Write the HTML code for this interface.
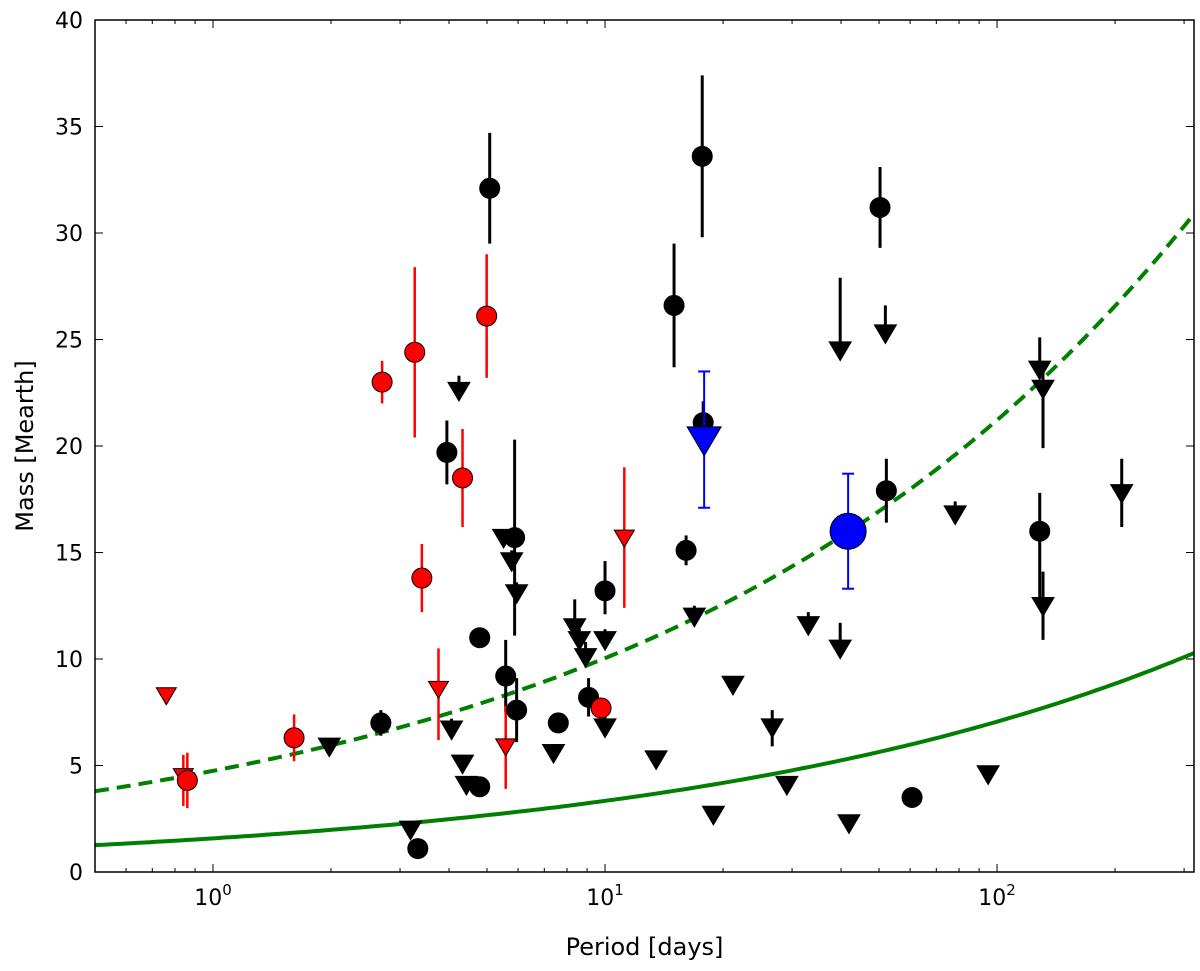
<!DOCTYPE html>
<html><head><meta charset="utf-8"><style>
body{margin:0;background:#fff}
svg{display:block;font-family:"DejaVu Sans","Liberation Sans",sans-serif}
</style></head><body>
<svg id="chart" width="1200" height="971" viewBox="0 0 1200 971"></svg>
<script>
// ---- data ----
const yTicks=[0,5,10,15,20,25,30,35,40];
const xDecades=[0,1,2];
// black circles: period, mass, err low, err high
const blkCircP=[5.08,17.7,15.0,50.3,17.8,3.95,52.2,128.5,16.1,5.88,10,4.79,5.58,5.95,9.08,2.68,7.6,4.79,3.33,60.7];
const blkCircM=[32.1,33.6,26.6,31.2,21.1,19.7,17.9,16.0,15.1,15.7,13.2,11.0,9.2,7.6,8.2,7.0,7.0,4.0,1.1,3.5];
const blkCircLo=[2.6,3.8,2.9,1.9,1.0,1.5,1.5,3.2,0.7,4.6,1.1,0,1.7,1.5,0.9,0.6,0,0,0,0];
const blkCircHi=[2.6,3.8,2.9,1.9,1.0,1.5,1.5,1.8,0.7,4.6,1.4,0,1.7,1.5,0.9,0.6,0,0,0,0];
// black triangles (upper limits): period, mass, bar above
const blkTriP=[4.24,39.8,51.9,128.5,131,131,208,78.2,16.9,33.0,39.8,5.51,5.78,5.95,8.37,8.92,8.6,10,10,4.06,4.33,4.43,1.98,3.19,7.39,13.5,21.2,26.7,29.1,18.9,41.9,94.9];
const blkTriM=[22.6,24.5,25.3,23.6,22.7,12.5,17.8,16.8,12.0,11.6,10.5,15.7,14.6,13.1,11.5,10.1,10.9,10.9,6.8,6.7,5.1,4.1,5.9,2.0,5.6,5.3,8.8,6.8,4.1,2.7,2.3,4.6];
const blkTriUp=[0.7,3.4,1.3,1.5,1.0,1.6,1.6,0.6,0.5,0.6,1.2,0,0.5,0.5,1.3,0.7,0.5,0.5,0.5,0.5,0.4,0.4,0.3,0.3,0.3,0,0,0.8,0.4,0,0,0.3];
const blkTriDn=[0,0,0,0,2.8,1.6,1.6,0,0,0,0,0,0,0,0,0,0,0,0,0,0,0,0,0,0,0,0,0.9,0,0,0,0];
// red circles
const redCircP=[2.7,3.27,4.99,4.33,3.41,1.61,0.86,9.77];
const redCircM=[23.0,24.4,26.1,18.5,13.8,6.3,4.3,7.7];
const redCircE=[1.0,4.0,2.9,2.3,1.6,1.1,1.3,0.4];
// red triangles: period, mass, bar above, bar below
const redTriP=[0.76,0.84,3.76,5.58,11.2];
const redTriM=[8.3,4.5,8.6,5.9,15.7];
const redTriUp=[0,1.0,1.9,1.9,3.3];
const redTriDn=[0,1.4,2.4,2.0,3.3];
// blue highlighted
const blueTriP=[17.9],blueTriM=[20.3],blueTriE=[3.2];
const blueCircP=[41.7],blueCircM=[16.0],blueCircE=[2.7];
// curves M = k * P^exp
const curveSolidK=1.58, curveDashK=4.75, curveExp=0.325;

// ---- axes ----
const L=95,R=1194,T=20,B=872;
const xMin=0.5,xMax=318;
const dec=(R-L)/(Math.log10(xMax)-Math.log10(xMin));
const X=p=>L+(Math.log10(p)-Math.log10(xMin))*dec;
const Y=m=>B-(m/40)*(B-T);
const svg=document.getElementById('chart');
const NS='http://www.w3.org/2000/svg';
function el(t,a,parent){const e=document.createElementNS(NS,t);for(const k in a)e.setAttribute(k,a[k]);(parent||svg).appendChild(e);return e;}

const clip=el('clipPath',{id:'pc'});el('rect',{x:L,y:T,width:R-L,height:B-T},clip);
const plot=el('g',{'clip-path':'url(#pc)'});



function curve(k,dash,name){let d='';for(let i=0;i<=200;i++){const lp=Math.log10(xMin)+i/200*(Math.log10(xMax)-Math.log10(xMin));const p=Math.pow(10,lp);d+=(i?'L':'M')+X(p).toFixed(1)+' '+Y(k*Math.pow(p,curveExp)).toFixed(1);}
const c=el('path',{d:d,fill:'none',stroke:'#007f00','stroke-width':4,'stroke-dasharray':dash},plot);

}
curve(curveSolidK,'none','solid-mass-curve');
curve(curveDashK,'14 8','dashed-mass-curve');

function bar(p,m1,m2,col,w){el('line',{x1:X(p),x2:X(p),y1:Y(m1),y2:Y(m2),stroke:col,'stroke-width':w||3},plot);}
function tri(p,m,col,s,name){const x=X(p),y=Y(m);const t=el('path',{d:`M${x-s} ${y-s*0.75}L${x+s} ${y-s*0.75}L${x} ${y+s*0.95}Z`,fill:col,stroke:'#000','stroke-width':1},plot);

}
function circ(p,m,col,r,name){const c=el('circle',{cx:X(p),cy:Y(m),r:r,fill:col,stroke:'#000','stroke-width':1},plot);

}

blkTriP.forEach((p,i)=>{if(blkTriUp[i]||blkTriDn[i])bar(p,blkTriM[i]-blkTriDn[i],blkTriM[i]+blkTriUp[i],'#000');});
blkCircP.forEach((p,i)=>{if(blkCircLo[i]||blkCircHi[i])bar(p,blkCircM[i]-blkCircLo[i],blkCircM[i]+blkCircHi[i],'#000');});
redCircP.forEach((p,i)=>bar(p,redCircM[i]-redCircE[i],redCircM[i]+redCircE[i],'#f00',2.5));
redTriP.forEach((p,i)=>{if(redTriUp[i]||redTriDn[i])bar(p,redTriM[i]-redTriDn[i],redTriM[i]+redTriUp[i],'#f00',2.5);});
blkTriP.forEach((p,i)=>tri(p,blkTriM[i],'#000',11,'upper-limit-marker'));
blkCircP.forEach((p,i)=>circ(p,blkCircM[i],'#000',10,'mass-measurement-marker'));
redTriP.forEach((p,i)=>tri(p,redTriM[i],'#f00',10,'red-upper-limit-marker'));
redCircP.forEach((p,i)=>circ(p,redCircM[i],'#f00',10,'red-mass-marker'));
function blueErr(p,m,e){const x=X(p);el('line',{x1:x,x2:x,y1:Y(m-e),y2:Y(m+e),stroke:'#00f','stroke-width':2},plot);[m-e,m+e].forEach(v=>el('line',{x1:x-6,x2:x+6,y1:Y(v),y2:Y(v),stroke:'#00f','stroke-width':2},plot));}
blueTriP.forEach((p,i)=>{blueErr(p,blueTriM[i],blueTriE[i]);tri(p,blueTriM[i],'#00f',17,'blue-upper-limit-marker');});
blueCircP.forEach((p,i)=>{blueErr(p,blueCircM[i],blueCircE[i]);circ(p,blueCircM[i],'#00f',18,'blue-mass-marker');});

const fr=el('rect',{x:L,y:T,width:R-L,height:B-T,fill:'none',stroke:'#000','stroke-width':1.5});


yTicks.forEach(v=>{const y=Y(v);
el('line',{x1:L,x2:L+8,y1:y,y2:y,stroke:'#000','stroke-width':1});
el('line',{x1:R,x2:R-8,y1:y,y2:y,stroke:'#000','stroke-width':1});
const t=el('text',{x:L-12,y:y+8,'text-anchor':'end','font-size':22});t.textContent=v;

});
for(let d=-1;d<=2;d++)for(let k=1;k<10;k++){const p=k*Math.pow(10,d);if(p<xMin||p>xMax)continue;const x=X(p);const len=k==1?8:4;
el('line',{x1:x,x2:x,y1:B,y2:B-len,stroke:'#000','stroke-width':1});el('line',{x1:x,x2:x,y1:T,y2:T+len,stroke:'#000','stroke-width':1});}
xDecades.forEach(d=>{const x=X(Math.pow(10,d));const t=el('text',{x:x,y:905,'text-anchor':'middle','font-size':22});t.textContent='10';
const s=el('tspan',{dy:-10,'font-size':15},t);s.textContent=d;

});
const xl=el('text',{x:(L+R)/2,y:955,'text-anchor':'middle','font-size':24});xl.textContent='Period [days]';


const yl=el('text',{x:0,y:0,'text-anchor':'middle','font-size':24,transform:`translate(33,${(T+B)/2}) rotate(-90)`});yl.textContent='Mass [Mearth]';


</script>
</body></html>
